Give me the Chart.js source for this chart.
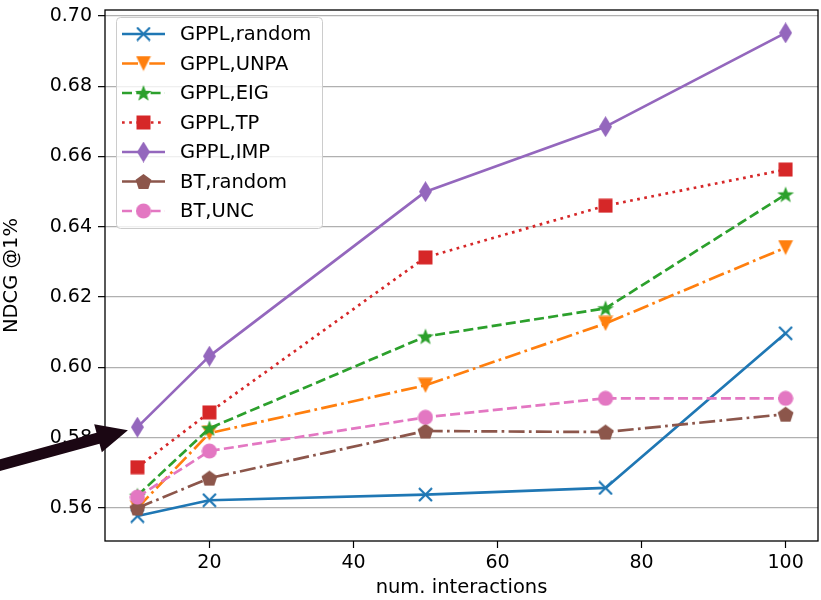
<!DOCTYPE html>
<html>
<head>
  <meta charset="UTF-8" />
  <title>NDCG @1% vs interactions</title>
  <script src="https://cdn.jsdelivr.net/npm/chart.js"></script>
  <style>
    body { margin: 0; background: #fff; }
    canvas { display: block; }
  </style>
</head>
<body>
  <canvas id="chart" width="821" height="600"></canvas>

  <script>
    // x positions (number of interactions)
    const interactions = [10, 20, 50, 75, 100];
    const xTicks = [20, 40, 60, 80, 100];
    const yTicks = [0.56, 0.58, 0.60, 0.62, 0.64, 0.66, 0.68, 0.70];

    const labels = ['GPPL,random', 'GPPL,UNPA', 'GPPL,EIG', 'GPPL,TP', 'GPPL,IMP', 'BT,random', 'BT,UNC'];

    // NDCG @1%
    const gpplRandom = [0.5577, 0.5622, 0.5638, 0.5657, 0.6097];
    const gpplUnpa   = [0.5600, 0.5813, 0.5949, 0.6125, 0.6341];
    const gpplEig    = [0.5635, 0.5827, 0.6088, 0.6168, 0.6492];
    const gpplTp     = [0.5716, 0.5872, 0.6313, 0.6460, 0.6563];
    const gpplImp    = [0.5830, 0.6032, 0.6500, 0.6685, 0.6952];
    const btRandom   = [0.5600, 0.5685, 0.5819, 0.5816, 0.5867];
    const btUnc      = [0.5631, 0.5762, 0.5858, 0.5912, 0.5912];

    const series = [gpplRandom, gpplUnpa, gpplEig, gpplTp, gpplImp, btRandom, btUnc];
    const colors = ['#1f77b4', '#ff7f0e', '#2ca02c', '#d62728', '#9467bd', '#8c564b', '#e377c2'];
    const LW = 2.7;
    const dashes = [[], [16, 4.3, 2.7, 4.3], [10, 4.3], [2.7, 4.5], [], [16, 4.3, 2.7, 4.3], [10, 4.3]];
    const markers = ['x', 'tri_down', 'star', 'square', 'thin_diamond', 'pentagon', 'circle'];

    const FONT = '"DejaVu Sans", sans-serif';

    // small canvases used as point styles (matplotlib-like markers)
    function makeMarker(kind, color) {
      const c = document.createElement('canvas');
      const dims = { x: [15, 15], tri_down: [16, 16], star: [18, 18], square: [15, 15],
                     thin_diamond: [13, 21], pentagon: [17, 17], circle: [16, 16] }[kind];
      c.width = dims[0];
      c.height = dims[1];
      const g = c.getContext('2d');
      const cx = c.width / 2, cy = c.height / 2;
      g.fillStyle = color;
      g.strokeStyle = color;
      g.beginPath();
      if (kind === 'x') {
        g.lineWidth = 2.2;
        g.moveTo(1, 1); g.lineTo(14, 14);
        g.moveTo(14, 1); g.lineTo(1, 14);
        g.stroke();
        return c;
      } else if (kind === 'tri_down') {
        g.moveTo(0.5, 0.5); g.lineTo(15.5, 0.5); g.lineTo(cx, 15.5);
      } else if (kind === 'star') {
        for (let i = 0; i < 10; i++) {
          const r = i % 2 === 0 ? 8.8 : 3.6;
          const a = -Math.PI / 2 + i * Math.PI / 5;
          g.lineTo(cx + r * Math.cos(a), cy + 0.7 + r * Math.sin(a));
        }
      } else if (kind === 'square') {
        g.rect(0.5, 0.5, 14, 14);
      } else if (kind === 'thin_diamond') {
        g.moveTo(cx, 0); g.lineTo(c.width, cy); g.lineTo(cx, c.height); g.lineTo(0, cy);
      } else if (kind === 'pentagon') {
        for (let i = 0; i < 5; i++) {
          const a = -Math.PI / 2 + i * 2 * Math.PI / 5;
          g.lineTo(cx + 8.3 * Math.cos(a), cy + 0.7 + 8.3 * Math.sin(a));
        }
      } else if (kind === 'circle') {
        g.arc(cx, cy, 7.6, 0, Math.PI * 2);
      }
      g.closePath();
      g.fill();
      return c;
    }

    const markerImgs = markers.map((m, i) => makeMarker(m, colors[i]));

    const datasets = series.map((vals, i) => ({
      label: labels[i],
      data: interactions.map((x, j) => ({ x: x, y: vals[j] })),
      borderColor: colors[i],
      backgroundColor: colors[i],
      borderWidth: LW,
      borderDash: dashes[i],
      borderJoinStyle: 'round',
      pointStyle: markerImgs[i],
      pointRadius: 7,
      pointHoverRadius: 7,
      tension: 0,
      fill: false,
      order: series.length - i
    }));

    // frame, legend and the arrow annotation
    const decorations = {
      id: 'decorations',
      afterDraw(chart) {
        const ctx = chart.ctx;
        const a = chart.chartArea;

        // spines
        ctx.save();
        ctx.strokeStyle = '#000';
        ctx.lineWidth = 1.3;
        ctx.strokeRect(a.left, a.top, a.right - a.left, a.bottom - a.top);
        ctx.restore();

        // legend box
        ctx.save();
        const lx = 116, ly = 17, lw = 206, lh = 211;
        ctx.beginPath();
        ctx.roundRect(lx + 0.5, ly + 0.5, lw, lh, 4);
        ctx.fillStyle = 'rgba(255,255,255,0.8)';
        ctx.fill();
        ctx.strokeStyle = '#cccccc';
        ctx.lineWidth = 1;
        ctx.stroke();
        ctx.font = '19.5px ' + FONT;
        ctx.textBaseline = 'middle';
        labels.forEach((lab, i) => {
          const rowY = 34 + i * 29.5;
          ctx.beginPath();
          ctx.setLineDash(dashes[i]);
          ctx.strokeStyle = colors[i];
          ctx.lineWidth = LW;
          ctx.moveTo(122, rowY);
          ctx.lineTo(165, rowY);
          ctx.stroke();
          ctx.setLineDash([]);
          const img = markerImgs[i];
          ctx.drawImage(img, 143.5 - img.width / 2, rowY - img.height / 2);
          ctx.fillStyle = '#000';
          ctx.fillText(lab, 180, rowY + 1);
        });
        ctx.restore();

        // arrow pointing at the GPPL,IMP start point
        const xs = chart.scales.x, ys = chart.scales.y;
        const px = xs.getPixelForValue(interactions[0]);
        const py = ys.getPixelForValue(gpplImp[0]);
        const tipX = px - 9.5, tipY = py + 3;
        const tailX = tipX - 150, tailY = tipY + 41;
        const ang = Math.atan2(tipY - tailY, tipX - tailX);
        const headLen = 31, headHalf = 14.5, shaftHalf = 5.7;
        ctx.save();
        ctx.translate(tipX, tipY);
        ctx.rotate(ang);
        const len = Math.hypot(tipX - tailX, tipY - tailY);
        ctx.beginPath();
        ctx.moveTo(0, 0);
        ctx.lineTo(-headLen, -headHalf);
        ctx.lineTo(-headLen, -shaftHalf);
        ctx.lineTo(-len, -shaftHalf);
        ctx.lineTo(-len, shaftHalf);
        ctx.lineTo(-headLen, shaftHalf);
        ctx.lineTo(-headLen, headHalf);
        ctx.closePath();
        ctx.fillStyle = '#1b0713';
        ctx.fill();
        ctx.restore();
      }
    };

    new Chart(document.getElementById('chart').getContext('2d'), {
      type: 'line',
      data: { datasets: datasets },
      options: {
        responsive: false,
        animation: false,
        devicePixelRatio: 1,
        layout: { autoPadding: false, padding: { top: 10, right: 3, left: 0, bottom: 0 } },
        scales: {
          x: {
            type: 'linear',
            min: 5.5,
            max: 104.5,
            afterBuildTicks: s => { s.ticks = xTicks.map(v => ({ value: v })); },
            afterFit: s => { s.height = 59; s.paddingLeft = 0; s.paddingRight = 0; },
            border: { display: false },
            grid: { drawOnChartArea: false, drawTicks: true, tickLength: 7, tickColor: '#000', tickWidth: 1.2 },
            ticks: { color: '#000', font: { family: FONT, size: 19 }, padding: 4, maxRotation: 0,
                     callback: v => String(v) },
            title: { display: true, text: 'num. interactions', color: '#000',
                     font: { family: FONT, size: 19.5 }, padding: { top: 0, bottom: 0 } }
          },
          y: {
            min: 0.5506,
            max: 0.7017,
            afterBuildTicks: s => { s.ticks = yTicks.map(v => ({ value: v })); },
            afterFit: s => { s.width = 105; s.paddingTop = 0; s.paddingBottom = 0; },
            border: { display: false },
            grid: { color: '#b0b0b0', lineWidth: 1.3, tickLength: 7, tickColor: '#000', tickWidth: 1.2 },
            ticks: { color: '#000', font: { family: FONT, size: 19 }, padding: 6,
                     callback: v => v.toFixed(2) },
            title: { display: true, text: 'NDCG @1%', color: '#000',
                     font: { family: FONT, size: 19.5 }, padding: { top: 0, bottom: 6 } }
          }
        },
        plugins: {
          legend: { display: false },
          tooltip: { enabled: false }
        }
      },
      plugins: [decorations]
    });
  </script>
</body>
</html>
